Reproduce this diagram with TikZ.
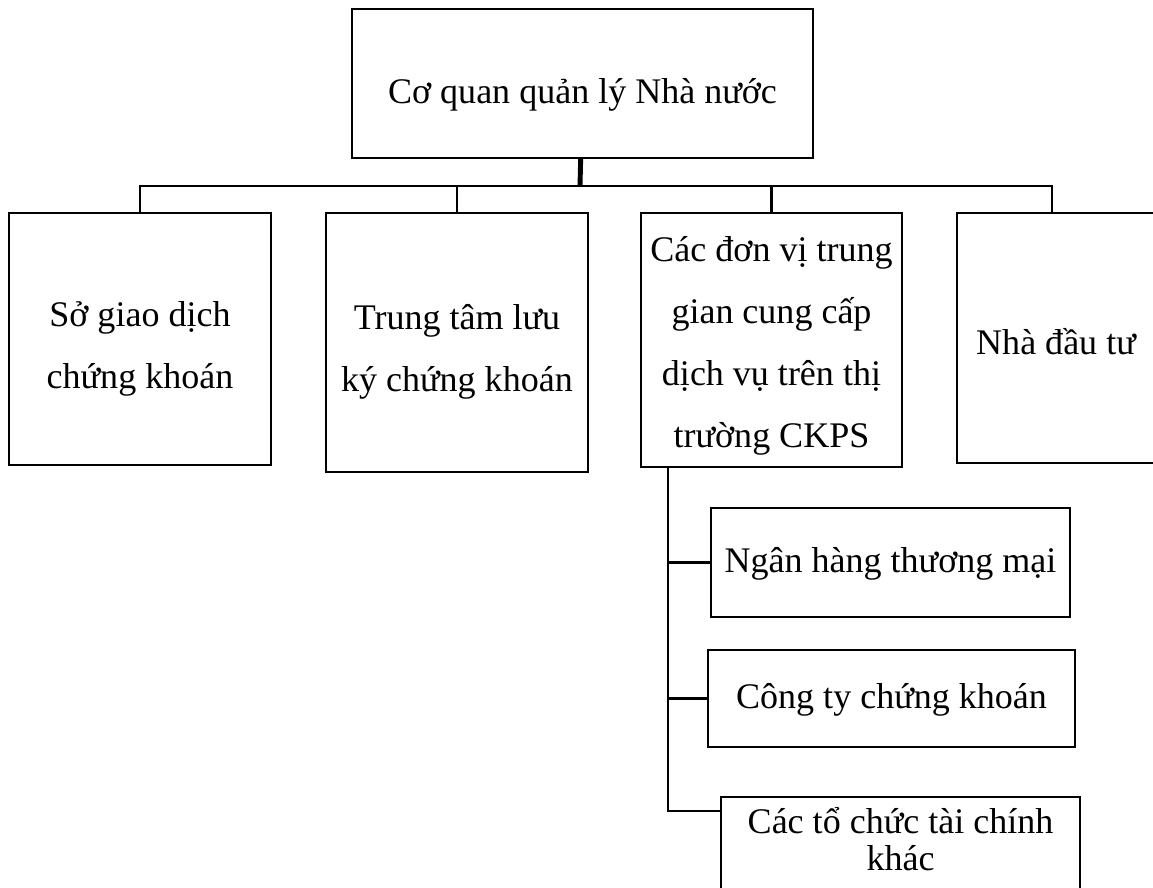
\documentclass[tikz,border=0pt]{standalone}
\usepackage{fontspec}
\setmainfont{Liberation Serif}
\tikzset{
  khung/.style={draw, line width=1.3pt, inner sep=1pt, align=center, text depth=0pt,
    font=\fontsize{20.5}{35.3}\selectfont},
  noi/.style={line width=1.3pt},
}
\begin{document}
\begin{tikzpicture}[x=0.02cm, y=-0.02cm]
    \useasboundingbox (0,0) rectangle (1153,888);

    \node[khung, minimum width=9.22cm, minimum height=2.98cm, text height=0.8cm] (coquan) at (582.5,83.5) {Cơ quan quản lý Nhà nước};
    \node[khung, minimum width=5.24cm, minimum height=5.04cm, text height=2.0cm] (sogd) at (140,339) {Sở giao dịch\\chứng khoán};
    \node[khung, minimum width=5.24cm, minimum height=5.18cm, text height=1.98cm] (ttlk) at (457,342.5) {Trung tâm lưu\\ký chứng khoán};
    \node[khung, minimum width=5.22cm, minimum height=5.08cm, text height=4.32cm] (trunggian) at (771.5,340) {Các đơn vị trung\\gian cung cấp\\dịch vụ trên thị\\trường CKPS};
    \node[khung, minimum width=3.96cm, minimum height=5.0cm, text height=0.68cm] (nhadautu) at (1056,338) {Nhà đầu tư};

    \node[khung, minimum width=7.18cm, minimum height=2.18cm, text height=0.42cm] (nganhang) at (890.5,562.5) {Ngân hàng thương mại};
    \node[khung, minimum width=7.34cm, minimum height=1.94cm, text height=0.38cm] (ctck) at (891.5,698.5) {Công ty chứng khoán};
    \node[khung, minimum width=7.18cm, minimum height=1.96cm, text height=0.96cm, font=\fontsize{20.5}{21}\selectfont] (tochuc) at (900.5,846) {Các tổ chức tài chính\\khác};

    \coordinate (bus) at (580,186);
    \coordinate (truc) at (668,467); % truc doc duoi o trung gian

    \draw[line width=2.8pt] (coquan) -- (bus);
    \draw[noi] (bus) -| (sogd);
    \draw[noi] (bus) -| (ttlk);
    \draw[noi] (bus) -| (trunggian);
    \draw[noi] (bus) -| ([xshift=-0.08cm]nhadautu.north);

    \draw[noi] (truc) |- (nganhang);
    \draw[noi] (truc) |- (ctck);
    \draw[noi] (truc) |- ([yshift=-0.3cm]tochuc.north west);
\end{tikzpicture}
\end{document}
